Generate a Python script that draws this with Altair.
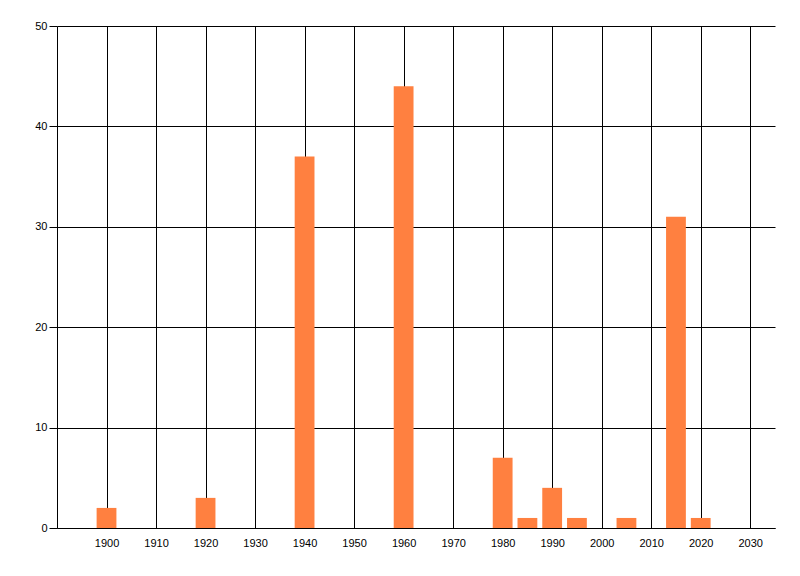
import altair as alt
import pandas as pd

years = [1900, 1920, 1940, 1960, 1980, 1985, 1990, 1995, 2005, 2015, 2020]
counts = [2, 3, 37, 44, 7, 1, 4, 1, 1, 31, 1]
x_ticks = list(range(1900, 2031, 10))
y_ticks = [0, 10, 20, 30, 40, 50]

df = pd.DataFrame({"year": years, "count": counts})
df["x0"] = df["year"] - 2
df["x1"] = df["year"] + 2

chart = alt.Chart(df).mark_rect(color="#FF8040").encode(
    x=alt.X("x0:Q", scale=alt.Scale(domain=[1890, 2035], nice=False, zero=False),
            axis=alt.Axis(values=x_ticks, title=None, format="d", ticks=False,
                          labelPadding=9, grid=True, gridColor="black", gridOpacity=1,
                          domainColor="black", labelColor="black", labelFont="Liberation Sans",
                          labelFontSize=11)),
    x2="x1:Q",
    y=alt.Y("count:Q", scale=alt.Scale(domain=[0, 50], nice=False),
            axis=alt.Axis(values=y_ticks, title=None, tickSize=8, tickColor="black",
                          labelPadding=2, grid=True, gridColor="black", gridOpacity=1,
                          domainColor="black", labelColor="black", labelFont="Liberation Sans",
                          labelFontSize=11)),
    y2=alt.datum(0),
).properties(
    width=718, height=502,
    autosize=alt.AutoSizeParams(type="none"),
    padding={"left": 49, "top": 18, "right": 10, "bottom": 40},
).configure_view(stroke=None).configure_axis(zindex=0)

chart.save("out.html", embed_options={"renderer": "svg", "actions": False})
